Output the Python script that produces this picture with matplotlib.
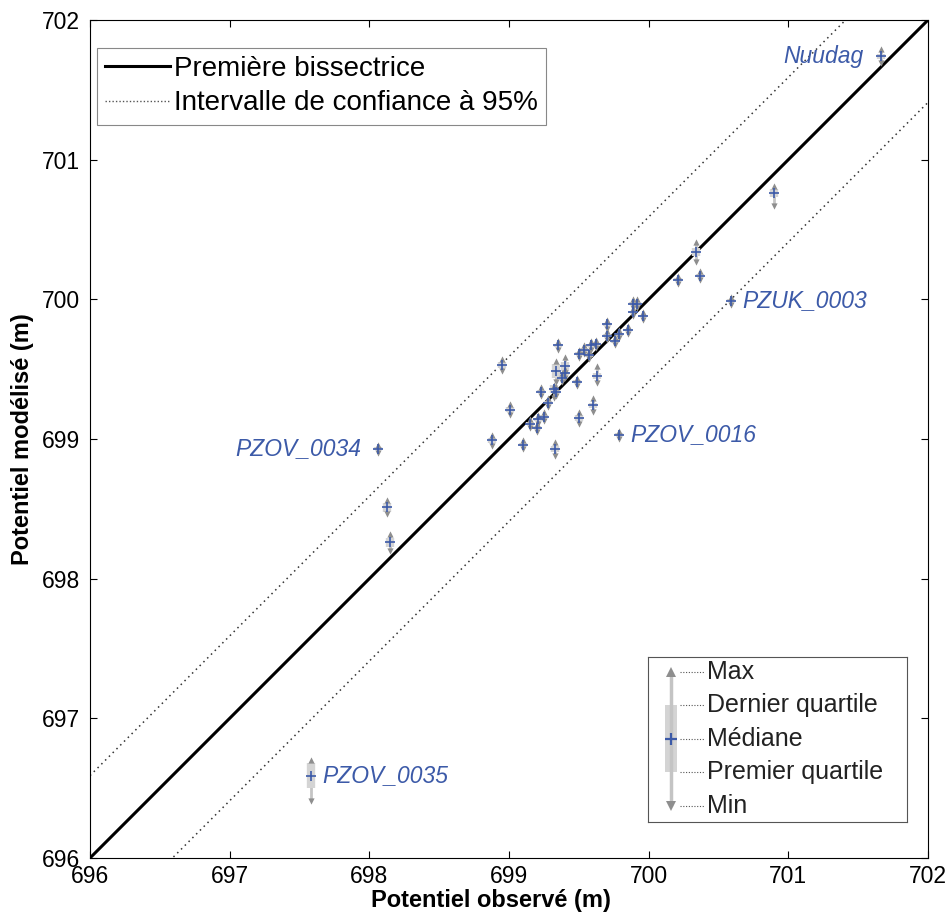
import numpy as np
import matplotlib.pyplot as plt
from matplotlib.lines import Line2D
from matplotlib.patches import Rectangle

plt.rcParams['font.family'] = ['Liberation Sans', 'DejaVu Sans']

# observed heads and modelled distribution (median, box half-height, whisker below / above)
obs = [701.66, 700.90, 700.34, 700.37, 700.59, 700.21, 699.89, 699.92, 699.89, 699.96,
       699.70, 699.70, 699.79, 699.76, 699.85, 699.50, 699.54, 699.59, 699.62, 699.57,
       699.40, 699.40, 699.63, 698.95, 699.35, 699.34, 699.38, 699.49, 699.23, 699.32,
       699.34, 699.28, 699.01, 699.15, 699.21, 699.25, 699.20, 699.50, 699.60, 698.88,
       699.10, 699.33, 699.79, 698.06, 698.13, 698.15, 697.58]
med = [701.74, 700.76, 700.34, 700.17, 699.99, 700.14, 699.97, 699.97, 699.91, 699.88,
       699.82, 699.74, 699.75, 699.70, 699.78, 699.61, 699.64, 699.67, 699.68, 699.60,
       699.52, 699.47, 699.45, 699.53, 699.67, 699.49, 699.44, 699.41, 699.34, 699.36,
       699.34, 699.26, 699.21, 699.11, 699.14, 699.16, 699.08, 699.15, 699.24, 698.99,
       698.96, 698.93, 699.03, 698.93, 698.51, 698.26, 696.59]
box = [0.02, 0.03, 0.03, 0.01, 0.01, 0.01, 0.01, 0.01, 0.01, 0.01,
       0.01, 0.01, 0.01, 0.01, 0.01, 0.01, 0.01, 0.01, 0.01, 0.01,
       0.03, 0.01, 0.02, 0.02, 0.01, 0.05, 0.01, 0.01, 0.01, 0.03,
       0.01, 0.01, 0.02, 0.01, 0.01, 0.01, 0.01, 0.02, 0.02, 0.02,
       0.01, 0.02, 0.01, 0.01, 0.03, 0.03, 0.09]
w_lo = [0.05, 0.09, 0.07, 0.03, 0.03, 0.03, 0.03, 0.03, 0.03, 0.03,
        0.03, 0.03, 0.03, 0.03, 0.03, 0.03, 0.03, 0.03, 0.03, 0.03,
        0.05, 0.03, 0.05, 0.04, 0.03, 0.08, 0.03, 0.03, 0.03, 0.07,
        0.03, 0.03, 0.04, 0.03, 0.03, 0.03, 0.03, 0.04, 0.05, 0.04,
        0.03, 0.05, 0.03, 0.03, 0.05, 0.06, 0.18]
w_hi = [0.05, 0.05, 0.07, 0.03, 0.03, 0.03, 0.03, 0.03, 0.03, 0.03,
        0.03, 0.03, 0.03, 0.03, 0.03, 0.03, 0.03, 0.03, 0.03, 0.03,
        0.07, 0.03, 0.07, 0.04, 0.03, 0.07, 0.03, 0.03, 0.03, 0.03,
        0.03, 0.03, 0.04, 0.03, 0.03, 0.03, 0.03, 0.04, 0.05, 0.04,
        0.03, 0.05, 0.03, 0.03, 0.05, 0.06, 0.11]

# labelled wells: name, index, side
labels = [("Nuudag", 0, "left"), ("PZUK_0003", 4, "right"), ("PZOV_0016", 42, "right"),
          ("PZOV_0034", 43, "left"), ("PZOV_0035", 46, "right")]

ci = 0.59
lims = [696, 702]
blue = '#3c5aa8'
grey_arrow = '#8e8e8e'
grey_line = '#c4c4c4'
grey_box = '#d4d4d4'

obs = np.array(obs)
med = np.array(med)
box = np.array(box)
lo = med - np.array(w_lo)
hi = med + np.array(w_hi)

fig = plt.figure(figsize=(9.5, 9.24), dpi=100)
ax = fig.add_axes([90/950, 66/924, 838/950, 838/924])

xx = np.array(lims)
ax.plot(xx, xx, color='black', lw=2.2, zorder=2)
ax.plot(xx, xx + ci, color='#333333', lw=1.1, ls=(0, (1, 2.5)), zorder=2)
ax.plot(xx, xx - ci, color='#333333', lw=1.1, ls=(0, (1, 2.5)), zorder=2)

ax.vlines(obs, lo, hi, color=grey_line, lw=2, zorder=3)
ax.vlines(obs, med - box, med + box, color=grey_box, lw=6, zorder=3)
ax.scatter(obs, hi, marker='^', s=20, color=grey_arrow, lw=0, zorder=4)
ax.scatter(obs, lo, marker='v', s=20, color=grey_arrow, lw=0, zorder=4)
ax.scatter(obs, med, marker='+', s=45, color=blue, lw=1.2, zorder=5)

for name, i, side in labels:
    dx = -0.12 if side == "left" else 0.08
    ax.text(obs[i] + dx, med[i], name, color=blue, style='italic', fontsize=16.5,
            ha='right' if side == "left" else 'left', va='center')

ax.set_xlim(lims)
ax.set_ylim(lims)
ax.set_xticks(range(696, 703))
ax.set_yticks(range(696, 703))
ax.tick_params(direction='in', length=5, labelsize=16.5, top=True, right=True)
ax.tick_params(axis='y', pad=7)
ax.tick_params(axis='x', pad=5)
ax.set_xlabel('Potentiel observé (m)', fontsize=17, fontweight='bold', labelpad=0)
ax.xaxis.set_label_coords(0.478, -0.037)
ax.set_ylabel('Potentiel modélisé (m)', fontsize=17, fontweight='bold', labelpad=6)

handles = [Line2D([], [], color='black', lw=2.2),
           Line2D([], [], color='#555555', lw=1, ls=(0, (1, 1.5)))]
leg = ax.legend(handles, ['Première bissectrice', 'Intervalle de confiance à 95%'],
                loc='upper left', bbox_to_anchor=(0.008, 0.967), borderaxespad=0,
                fontsize=20, handlelength=2.35, handletextpad=0.12, fancybox=False,
                edgecolor='#888888', framealpha=1, borderpad=0.3, labelspacing=0.3)
leg.get_frame().set_linewidth(0.8)

# box-plot key
kx = fig.add_axes([648/950, (924-822)/924, (907-648)/950, (822-657)/924])
kx.set_xlim(0, 259)
kx.set_ylim(165, 0)
kx.set_xticks([])
kx.set_yticks([])
for s in kx.spines.values():
    s.set_color('#555555')
    s.set_linewidth(0.8)
rows = [15, 48, 82, 115, 149]
names = ['Max', 'Dernier quartile', 'Médiane', 'Premier quartile', 'Min']
kx.vlines(23, rows[0], rows[4], color=grey_line, lw=2.5)
kx.add_patch(Rectangle((17, rows[1]), 12, rows[3] - rows[1], color=grey_box, lw=0))
kx.plot(23, rows[0], marker='^', ms=7, color=grey_arrow, mew=0)
kx.plot(23, rows[4], marker='v', ms=7, color=grey_arrow, mew=0)
kx.plot(23, rows[2], marker='+', ms=9, color=blue, mew=1.6)
for y, name in zip(rows, names):
    kx.plot([32, 56], [y, y], color='#555555', lw=0.8, ls=(0, (1, 1.5)))
    kx.text(59, y, name, fontsize=18, va='center', ha='left', color='#222222')

fig.savefig('out.png', dpi=100)
